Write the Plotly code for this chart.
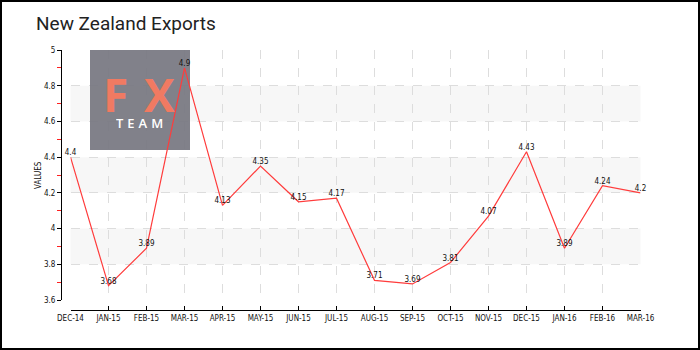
import plotly.graph_objects as go

# Monthly export values (NZD bn)
months = ["DEC-14", "JAN-15", "FEB-15", "MAR-15", "APR-15", "MAY-15", "JUN-15", "JUL-15",
          "AUG-15", "SEP-15", "OCT-15", "NOV-15", "DEC-15", "JAN-16", "FEB-16", "MAR-16"]
exports = [4.4, 3.68, 3.89, 4.9, 4.13, 4.35, 4.15, 4.17,
           3.71, 3.69, 3.81, 4.07, 4.43, 3.89, 4.24, 4.2]
value_labels = [f"{v:g}" for v in exports]

# Value range shaded in alternating horizontal bands
band_ranges = [(3.8, 4.0), (4.2, 4.4), (4.6, 4.8)]

W, H = 700, 350
Y_MIN, Y_MAX = 3.6, 5.0
PLOT_L, PLOT_R, PLOT_T, PLOT_B = 70.5, 640.5, 50, 300


def px(v):
    return v / W


def py(v):
    return (H - v) / H


# pixel -> axis units, used for the badge drawn inside the plot area
def to_x(p):
    return (p - PLOT_L) / (PLOT_R - PLOT_L) * (len(months) - 1)


def to_y(p):
    return Y_MAX - (p - PLOT_T) / (PLOT_B - PLOT_T) * (Y_MAX - Y_MIN)


small_font = dict(family="DejaVu Sans Condensed", size=8, color="#111")

fig = go.Figure()

# Brand badge (grey tile) sits above the grid but beneath the series line
bx0, bx1, by0, by1 = to_x(90), to_x(190), to_y(50), to_y(150)
fig.add_trace(go.Scatter(
    x=[bx0, bx1, bx1, bx0, bx0], y=[by0, by0, by1, by1, by0],
    mode="lines", fill="toself", fillcolor="#7a7a83",
    line=dict(width=0, color="#7a7a83"), opacity=0.94,
    hoverinfo="skip",
))

fig.add_trace(go.Scatter(
    x=list(range(len(months))), y=exports,
    mode="lines+text",
    line=dict(color="#ff3c3c", width=1.2),
    text=value_labels, textposition="top center",
    textfont=small_font,
    cliponaxis=False,
    hoverinfo="skip",
))

shapes = []
for lo, hi in band_ranges:
    shapes.append(dict(type="rect", xref="x domain", yref="y", x0=0, x1=1, y0=lo, y1=hi,
                       fillcolor="#f7f7f7", line=dict(width=0), layer="below"))

# Outer frame
shapes.append(dict(type="rect", xref="paper", yref="paper",
                   x0=px(1), x1=px(699), y0=py(349), y1=py(1),
                   line=dict(color="#000", width=2), fillcolor="rgba(0,0,0,0)", layer="above"))

badge_font = dict(family="Open Sans", size=46, color="#f07a62", weight=700)
annotations = [
    dict(text="New Zealand Exports", xref="paper", yref="paper", x=px(34), y=py(23),
         xanchor="left", yanchor="middle", showarrow=False,
         font=dict(family="Roboto", size=19, color="#222")),
    dict(text="VALUES", xref="paper", yref="paper", x=px(38), y=py(175),
         xanchor="center", yanchor="middle", textangle=-90, showarrow=False,
         font=small_font),
    dict(text="F", xref="paper", yref="paper", x=px(115.5), y=py(94), height=36,
         xanchor="center", yanchor="middle", valign="middle", showarrow=False, font=badge_font),
    dict(text="X", xref="paper", yref="paper", x=px(159.5), y=py(94), height=36,
         xanchor="center", yanchor="middle", valign="middle", showarrow=False, font=badge_font),
    dict(text='<span style="letter-spacing:4px">TEAM</span>', xref="paper", yref="paper",
         x=px(141), y=py(123), height=12,
         xanchor="center", yanchor="middle", valign="middle", showarrow=False,
         font=dict(family="Open Sans", size=13, color="#ffffff", weight=600)),
]

fig.update_layout(
    width=W, height=H,
    autosize=False,
    margin=dict(l=0, r=0, t=0, b=0, autoexpand=False),
    paper_bgcolor="white", plot_bgcolor="white",
    showlegend=False,
    shapes=shapes,
    annotations=annotations,
    xaxis=dict(
        domain=[px(PLOT_L), px(PLOT_R)], anchor="free", position=py(310), automargin=False,
        range=[0, len(months) - 1],
        tickmode="array", tickvals=list(range(len(months))), ticktext=months,
        showline=True, linecolor="#000", linewidth=1,
        ticks="inside", ticklen=4, tickcolor="#000",
        showgrid=True, gridcolor="#dddddd", griddash="dash", gridwidth=1,
        zeroline=False, tickfont=small_font,
    ),
    yaxis=dict(
        domain=[py(PLOT_B), py(PLOT_T)], anchor="free", position=px(61), automargin=False,
        range=[Y_MIN, Y_MAX], dtick=0.2, tick0=Y_MIN,
        showline=True, linecolor="#000", linewidth=1,
        ticks="outside", ticklen=4, tickcolor="#000",
        minor=dict(dtick=0.1, ticks="outside", ticklen=4, tickcolor="#ff2020", showgrid=False),
        showgrid=True, gridcolor="#dddddd", griddash="dash", gridwidth=1,
        zeroline=False, tickfont=small_font,
    ),
)

fig.write_html("out.html")
